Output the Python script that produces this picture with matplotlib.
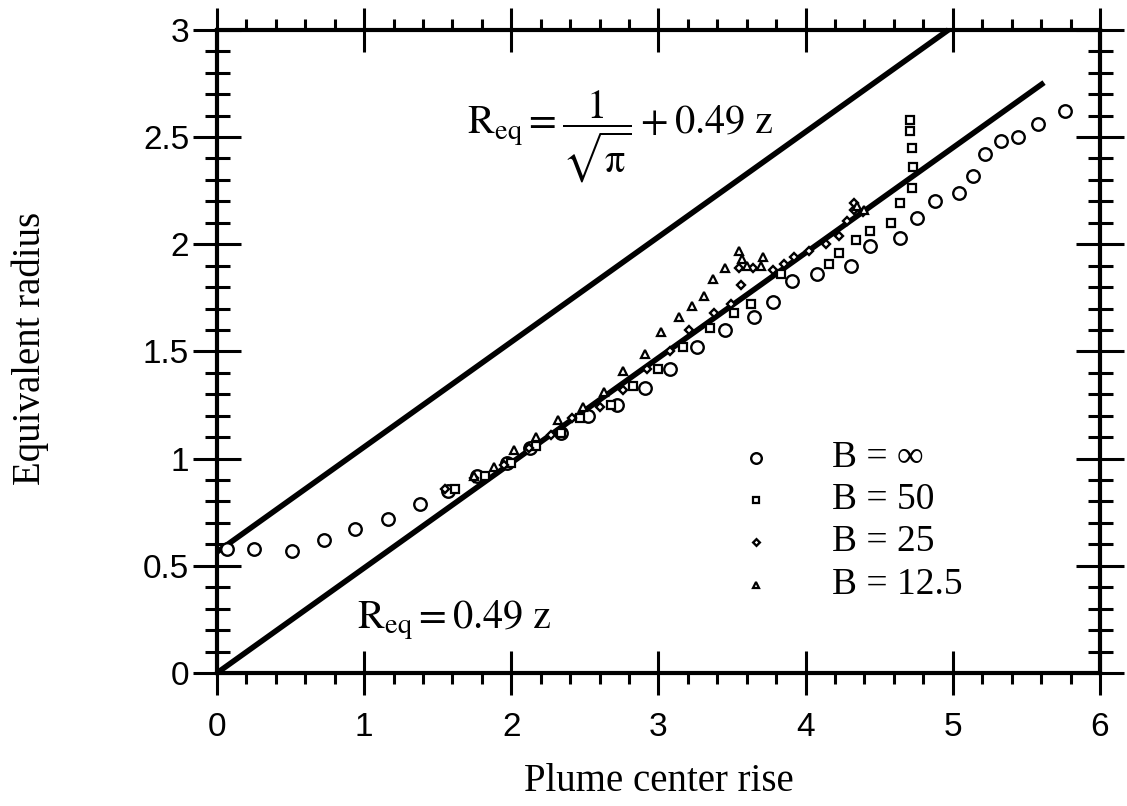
import numpy as np
import matplotlib
matplotlib.use("Agg")
import matplotlib.pyplot as plt
from matplotlib.ticker import MultipleLocator

# ---- data -------------------------------------------------------------
# B = infinity (open circles)
z_inf = [0.07, 0.25, 0.51, 0.73, 0.94, 1.16, 1.38, 1.57, 1.77, 1.97, 2.13, 2.34,
         2.52, 2.72, 2.91, 3.08, 3.26, 3.45, 3.65, 3.78, 3.91, 4.08, 4.31, 4.44,
         4.64, 4.76, 4.88, 5.04, 5.14, 5.22, 5.33, 5.44, 5.58, 5.76]
r_inf = [0.58, 0.58, 0.57, 0.62, 0.67, 0.72, 0.79, 0.85, 0.92, 0.98, 1.05, 1.12,
         1.20, 1.25, 1.33, 1.42, 1.52, 1.60, 1.66, 1.73, 1.83, 1.86, 1.90, 1.99,
         2.03, 2.12, 2.20, 2.24, 2.32, 2.42, 2.48, 2.50, 2.56, 2.62]

# B = 50 (squares)
z_50 = [1.62, 1.82, 2.00, 2.17, 2.34, 2.47, 2.68, 2.83, 3.00, 3.17, 3.35, 3.51,
        3.63, 3.83, 4.16, 4.23, 4.34, 4.44, 4.58, 4.64, 4.72, 4.73, 4.72, 4.71, 4.71]
r_50 = [0.86, 0.92, 0.98, 1.06, 1.12, 1.19, 1.25, 1.34, 1.42, 1.52, 1.61, 1.68,
        1.72, 1.86, 1.91, 1.96, 2.02, 2.06, 2.10, 2.19, 2.26, 2.36, 2.45, 2.53, 2.58]

# B = 25 (diamonds)
z_25 = [1.55, 1.75, 1.95, 2.12, 2.27, 2.41, 2.60, 2.76, 2.92, 3.08, 3.21, 3.38,
        3.49, 3.56, 3.55, 3.64, 3.78, 3.85, 3.92, 4.02, 4.14, 4.23, 4.28, 4.33,
        4.33, 4.39]
r_25 = [0.86, 0.91, 0.97, 1.05, 1.11, 1.19, 1.24, 1.32, 1.42, 1.50, 1.60, 1.68,
        1.72, 1.81, 1.89, 1.89, 1.88, 1.91, 1.94, 1.97, 2.00, 2.04, 2.11, 2.16,
        2.19, 2.15]

# B = 12.5 (triangles)
z_12 = [1.75, 1.88, 2.02, 2.17, 2.32, 2.49, 2.63, 2.76, 2.91, 3.02, 3.14, 3.23,
        3.31, 3.37, 3.45, 3.55, 3.57, 3.60, 3.70, 3.71, 4.35, 4.40]
r_12 = [0.92, 0.96, 1.04, 1.10, 1.18, 1.24, 1.31, 1.41, 1.49, 1.59, 1.66, 1.71,
        1.76, 1.84, 1.89, 1.97, 1.93, 1.90, 1.90, 1.94, 2.18, 2.16]

legend_labels = ["B = \u221e", "B = 50", "B = 25", "B = 12.5"]

# model lines R_eq = a + 0.49 z
slope = 0.49
offset = 1.0 / np.sqrt(np.pi)
z_upper_end = (3.0 - offset) / slope   # reaches the top of the frame
z_lower_end = 5.62

# ---- styling ----------------------------------------------------------
SERIF = ["Liberation Serif", "DejaVu Serif"]
SANS = ["Liberation Sans", "DejaVu Sans"]
plt.rcParams["mathtext.fontset"] = "stix"

fig = plt.figure(figsize=(11.27, 8.06), dpi=100)
ax = fig.add_axes([0.1925, 0.165, 0.7835, 0.798])

ax.set_xlim(0, 6)
ax.set_ylim(0, 3)

for s in ax.spines.values():
    s.set_linewidth(3.0)

ax.xaxis.set_major_locator(MultipleLocator(1))
ax.xaxis.set_minor_locator(MultipleLocator(0.2))
ax.yaxis.set_major_locator(MultipleLocator(0.5))
ax.yaxis.set_minor_locator(MultipleLocator(0.1))

ax.tick_params(axis="x", which="major", direction="inout", length=32, width=2.2,
               top=True, bottom=True, pad=12, labelsize=24)
ax.tick_params(axis="x", which="minor", direction="out", length=8, width=2.2,
               top=True, bottom=True)
ax.tick_params(axis="y", which="major", direction="inout", length=34, width=2.2,
               left=True, right=True, pad=3, labelsize=24)
ax.tick_params(axis="y", which="minor", direction="inout", length=18, width=2.2,
               left=True, right=True)

ax.set_xticks([0, 1, 2, 3, 4, 5, 6])
ax.set_xticklabels(["0", "1", "2", "3", "4", "5", "6"])
ax.set_yticks([0, 0.5, 1, 1.5, 2, 2.5, 3])
ax.set_yticklabels(["0", "0.5", "1", "1.5", "2", "2.5", "3"])
for lab in ax.get_xticklabels() + ax.get_yticklabels():
    lab.set_fontfamily(SANS)

# ---- model lines ------------------------------------------------------
zu = np.array([0.0, z_upper_end])
zl = np.array([0.0, z_lower_end])
ax.plot(zu, offset + slope * zu, color="black", lw=4, solid_capstyle="butt",
        clip_on=False, zorder=3)
ax.plot(zl, slope * zl, color="black", lw=4, solid_capstyle="butt",
        clip_on=False, zorder=3)

# ---- measurements -----------------------------------------------------
common = dict(linestyle="none", markerfacecolor="white", markeredgecolor="black",
              zorder=4, clip_on=False)
series = [
    (z_inf, r_inf, "o", 9.0, 1.7),
    (z_50, r_50, "s", 5.5, 1.6),
    (z_25, r_25, "D", 4.0, 1.7),
    (z_12, r_12, "^", 5.5, 1.6),
]
for zs, rs, mk, ms, mew in series:
    ax.plot(zs, rs, marker=mk, markersize=ms, markeredgewidth=mew, **common)

# ---- legend (markers + labels) ----------------------------------------
leg_marker_x = 0.611
leg_text_x = 0.697
leg_rows = [0.334, 0.269, 0.204, 0.137]
for (zs, rs, mk, ms, mew), lab, yr in zip(series, legend_labels, leg_rows):
    ax.plot([leg_marker_x], [yr], marker=mk, markersize=ms * 0.85,
            markeredgewidth=mew, transform=ax.transAxes, **common)
    ax.text(leg_text_x, yr, lab, transform=ax.transAxes, ha="left", va="center",
            fontsize=27, family=SERIF)

# ---- equation annotations ---------------------------------------------
ax.text(1.70, 2.52,
        r"$\mathrm{R_{eq}} = \dfrac{1}{\sqrt{\mathrm{\pi}}} + 0.49\ \mathrm{z}$",
        fontsize=29, ha="left", va="baseline")
ax.text(0.95, 0.21, r"$\mathrm{R_{eq}} = 0.49\ \mathrm{z}$",
        fontsize=29, ha="left", va="baseline")

# ---- axis labels ------------------------------------------------------
ax.set_xlabel("Plume center rise", fontsize=28, family=SERIF, va="center")
ax.xaxis.set_label_coords(0.5, -0.168)
ax.set_ylabel("Equivalent radius", fontsize=28, family=SERIF, va="center")
ax.yaxis.set_label_coords(-0.212, 0.505)

fig.savefig("out.png", dpi=100, facecolor="white")
